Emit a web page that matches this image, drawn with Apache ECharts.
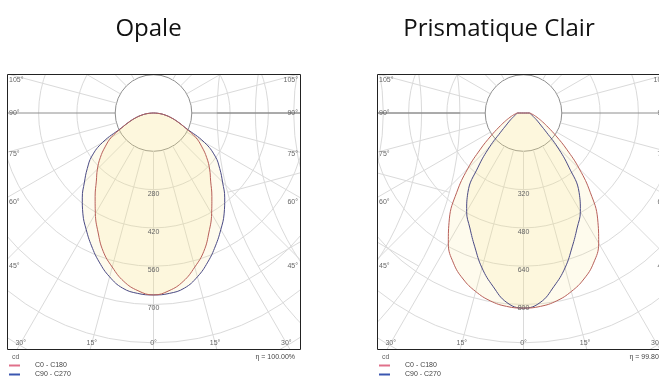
<!DOCTYPE html>
<html>
<head>
<meta charset="utf-8">
<script src="https://cdn.jsdelivr.net/npm/echarts@6/dist/echarts.min.js"></script>
<style>
html,body{margin:0;padding:0;background:#fff;}
#c{width:659px;height:376px;}
</style>
</head>
<body>
<div id="c"></div>
<script>
// ---------------- data ----------------
const gammaDeg = [0,5,10,15,20,25,30,35,40,45,50,55,60,65,70,75,80,85,90];
// Opale (cd)
const opaleC0C180  = [665,652,625,583,538,480,425,372,325,290,254,216,178,128,94,67,43,21,0];
const opaleC90C270 = [665,662,650,620,580,536,492,450,405,357,316,275,215,130,94,67,43,21,0];
// Prismatique Clair (cd)
const prismC0C180  = [815,811,797,772,738,692,628,540,435,330,235,165,118,88,67,52,41,32,25];
const prismC90C270 = [815,795,735,670,595,530,475,405,295,200,125,88,68,54,44,37,32,28,25];

const titles = ['Opale', 'Prismatique Clair'];
const etaTexts = ['\u03B7 = 100.00%', '\u03B7 = 99.80%'];
const legendNames = ['C0 - C180', 'C90 - C270'];
const unitLabel = 'cd';
const opaleRingStep = 140;
const prismRingStep = 160;
const opaleRingLabels = [280, 420, 560, 700];
const prismRingLabels = [320, 480, 640, 800];
const sideAngleLabels = [105, 90, 75, 60, 45];
const bottomAngleLabels = [-30, -15, 0, 15, 30];

// ---------------- layout / style ----------------
const RED = '#b8605a';
const BLUE = '#4a4a84';
const FILL = 'rgba(250,232,140,0.22)';
const GRID = '#dadada';
const GRID_DARK = '#8e8e8e';
const LABEL = '#666';
const SMALL_FONT = '7px "Liberation Sans", Arial, sans-serif';
const RING_PX = 38.3, N_RINGS = 8, ORIGIN_DY = 39;

const panels = [
  {frame:{x:7,y:74,w:293,h:275}, titleX:148.5, step:opaleRingStep, ringLabels:opaleRingLabels, c0:opaleC0C180, c90:opaleC90C270},
  {frame:{x:377,y:74,w:293,h:275}, titleX:499, step:prismRingStep, ringLabels:prismRingLabels, c0:prismC0C180, c90:prismC90C270}
];
panels.forEach((p,k)=>{ p.title = titles[k]; p.eta = etaTexts[k]; p.cx = p.frame.x + p.frame.w/2; p.cy = p.frame.y + ORIGIN_DY; });

function curve(vals){
  const pts = [[0, 360-95]];
  for (let i = vals.length-1; i >= 0; i--) pts.push([vals[i], 360 - gammaDeg[i]]);
  for (let i = 1; i < vals.length; i++) pts.push([vals[i], gammaDeg[i]]);
  pts.push([0, 95]);
  return pts;
}

const ringColors = [GRID_DARK].concat(Array(N_RINGS).fill(GRID));
const angleColors = Array(24).fill(GRID); angleColors[6] = GRID_DARK; angleColors[18] = GRID_DARK;

const polar = [], angleAxis = [], radiusAxis = [], series = [];
panels.forEach((p,k)=>{
  polar.push({center:[p.cx,p.cy], radius:[RING_PX, RING_PX*N_RINGS]});
  angleAxis.push({polarIndex:2*k, type:'value', min:0, max:360, interval:15, startAngle:-90, clockwise:true,
    axisLine:{show:false}, axisTick:{show:false}, axisLabel:{show:false}, silent:true,
    splitLine:{show:true, lineStyle:{color:angleColors, width:1}}});
  radiusAxis.push({polarIndex:2*k, type:'value', min:p.step, max:p.step*N_RINGS, interval:p.step,
    axisLine:{show:false}, axisTick:{show:false}, axisLabel:{show:false}, silent:true,
    splitLine:{show:true, lineStyle:{color:ringColors, width:1}}});
  polar.push({center:[p.cx,p.cy], radius:RING_PX*N_RINGS});
  angleAxis.push({polarIndex:2*k+1, type:'value', min:0, max:360, startAngle:-90, clockwise:true, show:false});
  radiusAxis.push({polarIndex:2*k+1, type:'value', min:0, max:p.step*N_RINGS, show:false});
  [[legendNames[1], p.c90, BLUE], [legendNames[0], p.c0, RED]].forEach(([nm, vals, col])=>{
    series.push({type:'line', name:nm, coordinateSystem:'polar', polarIndex:2*k+1, data:curve(vals),
      symbol:'none', showSymbol:false, smooth:0.45, clip:false, silent:true,
      lineStyle:{color:col, width:1}, areaStyle:{color:FILL}, z:3});
  });
});

const chart = echarts.init(document.getElementById('c'), null, {renderer:'canvas', width:659, height:376});
chart.setOption({animation:false, backgroundColor:'#fff', polar, angleAxis, radiusAxis, series});

// ---------------- overlays ----------------
const els = [];
const CW = 659, CH = 376;
const fL = panels[0].frame, fR = panels[1].frame;
const frameTop = fL.y, frameBot = fL.y + fL.h;
// white masks outside the frames
[[0,0,CW,frameTop],[0,frameBot,CW,CH-frameBot],[0,frameTop,fL.x,fL.h],[fL.x+fL.w,frameTop,fR.x-(fL.x+fL.w),fL.h]].forEach(r=>{
  els.push({type:'rect', shape:{x:r[0],y:r[1],width:r[2],height:r[3]}, style:{fill:'#fff'}, z:50, silent:true});
});
panels.forEach((p,k)=>{
  const f = p.frame;
  els.push({type:'rect', shape:{x:f.x+0.5,y:f.y+0.5,width:f.w,height:f.h}, style:{fill:'none', stroke:'#222', lineWidth:1}, z:51, silent:true});
  els.push({type:'text', x:p.titleX, y:29, style:{text:p.title, font:'24px "Open Sans", sans-serif', fill:'#111', textAlign:'center', textVerticalAlign:'middle'}, z:60});
  // ring labels via the data polar scale
  const sIdx = 2*k;
  p.ringLabels.forEach(v=>{
    const pt = chart.convertToPixel({seriesIndex:sIdx}, [v, 0]);
    els.push({type:'text', x:pt[0], y:pt[1]+4, style:{text:String(v), font:SMALL_FONT, fill:LABEL, textAlign:'center', textVerticalAlign:'middle'}, z:55});
  });
  // side angle labels
  const reach = f.w/2 + 7;
  sideAngleLabels.forEach(g=>{
    const rad = g*Math.PI/180;
    let y = p.cy + reach*Math.cos(rad)/Math.sin(rad);
    y = Math.max(f.y+6, Math.min(f.y+f.h-14, y));
    els.push({type:'text', x:f.x+2, y, style:{text:g+'\u00B0', font:SMALL_FONT, fill:LABEL, textAlign:'left', textVerticalAlign:'middle'}, z:55});
    els.push({type:'text', x:f.x+f.w-2, y, style:{text:g+'\u00B0', font:SMALL_FONT, fill:LABEL, textAlign:'right', textVerticalAlign:'middle'}, z:55});
  });
  const by = f.y + f.h - 6;
  bottomAngleLabels.forEach(g=>{
    const x = p.cx + (by - p.cy)*Math.tan(g*Math.PI/180);
    els.push({type:'text', x, y:by, style:{text:Math.abs(g)+'\u00B0', font:SMALL_FONT, fill:LABEL, textAlign:'center', textVerticalAlign:'middle'}, z:55});
  });
  // legend + unit + efficiency
  els.push({type:'text', x:f.x+5, y:frameBot+8, style:{text:unitLabel, font:SMALL_FONT, fill:LABEL, textAlign:'left', textVerticalAlign:'middle'}, z:60});
  [[legendNames[0], '#e0708a', frameBot+16.5], [legendNames[1], '#3a56b0', frameBot+25.5]].forEach(([nm,col,y])=>{
    els.push({type:'line', shape:{x1:f.x+2,y1:y,x2:f.x+13,y2:y}, style:{stroke:col, lineWidth:2}, z:60});
    els.push({type:'text', x:f.x+28, y, style:{text:nm, font:SMALL_FONT, fill:'#444', textAlign:'left', textVerticalAlign:'middle'}, z:60});
  });
  els.push({type:'text', x:f.x+f.w-5, y:frameBot+8, style:{text:p.eta, font:SMALL_FONT, fill:'#444', textAlign:'right', textVerticalAlign:'middle'}, z:60});
});
chart.setOption({graphic:{elements:els}});
</script>
</body>
</html>
